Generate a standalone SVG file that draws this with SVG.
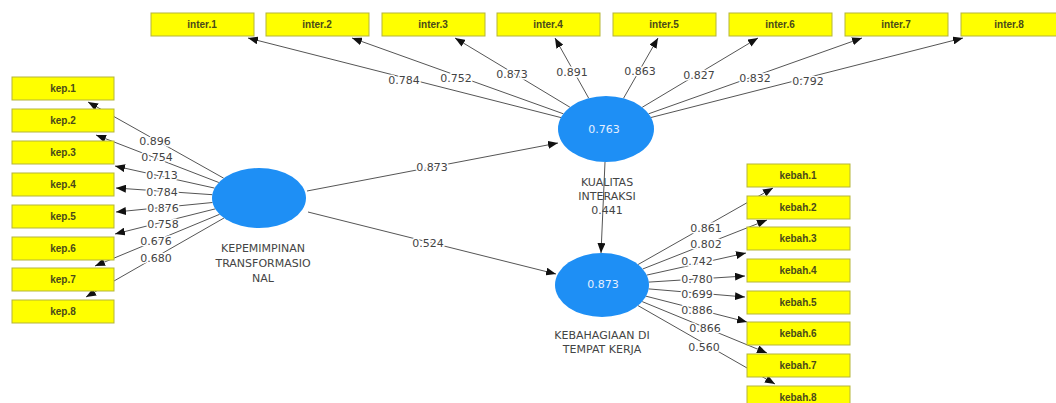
<svg xmlns="http://www.w3.org/2000/svg" width="1056" height="403" viewBox="0 0 1056 403">
<defs>
<marker id="ah" markerUnits="userSpaceOnUse" markerWidth="10" markerHeight="8" refX="10" refY="4" orient="auto">
<path d="M0,0 L10,4 L0,8 z" fill="#111"/>
</marker>
<style>
.bx{fill:#ffff00;stroke:#b5b53a;stroke-width:1}
.bt{font-family:"Liberation Sans",Arial,sans-serif;font-size:10px;font-weight:bold;fill:#4a4a1a;text-anchor:middle}
.ln{stroke:#555;stroke-width:1;fill:none;marker-end:url(#ah)}
.lb{font-family:"DejaVu Sans","Liberation Sans",sans-serif;font-size:11px;fill:#444;text-anchor:middle;paint-order:stroke;stroke:#fff;stroke-width:3px}
.el{fill:#1e8ff5}
.et{font-family:"DejaVu Sans","Liberation Sans",sans-serif;font-size:11px;fill:#e6f0ff;text-anchor:middle}
.nt{font-family:"DejaVu Sans","Liberation Sans",sans-serif;font-size:11px;fill:#444;text-anchor:middle}
</style>
</defs>
<rect width="1056" height="403" fill="#fff"/>
<g id="connectors">
<!-- inter -->
<line class="ln" x1="561" y1="117.6" x2="248" y2="38"/>
<line class="ln" x1="563.4" y1="113.8" x2="352" y2="38"/>
<line class="ln" x1="569.9" y1="107.2" x2="455" y2="38"/>
<line class="ln" x1="588.7" y1="98.2" x2="555" y2="38"/>
<line class="ln" x1="623.5" y1="98.3" x2="658" y2="38"/>
<line class="ln" x1="642.2" y1="107.3" x2="758" y2="38"/>
<line class="ln" x1="648.6" y1="113.8" x2="862" y2="38"/>
<line class="ln" x1="651" y1="117.5" x2="963" y2="38"/>
<!-- kep -->
<line class="ln" x1="223.7" y1="178.2" x2="88" y2="102"/>
<line class="ln" x1="218.8" y1="182.5" x2="96" y2="135"/>
<line class="ln" x1="214.6" y1="188.1" x2="115" y2="166"/>
<line class="ln" x1="212.3" y1="194.7" x2="116" y2="188"/>
<line class="ln" x1="212.5" y1="202.5" x2="116" y2="212"/>
<line class="ln" x1="215.2" y1="208.9" x2="115" y2="234"/>
<line class="ln" x1="219.6" y1="214.3" x2="95" y2="266"/>
<line class="ln" x1="224" y1="218" x2="86" y2="297"/>
<!-- kebah -->
<line class="ln" x1="638.1" y1="264.5" x2="773" y2="188"/>
<line class="ln" x1="642.7" y1="269" x2="767" y2="220"/>
<line class="ln" x1="646.7" y1="275.1" x2="746" y2="253"/>
<line class="ln" x1="648.8" y1="282.1" x2="745" y2="276"/>
<line class="ln" x1="648.6" y1="288.9" x2="745" y2="297"/>
<line class="ln" x1="646" y1="296.2" x2="747" y2="322"/>
<line class="ln" x1="642.2" y1="301.6" x2="767" y2="353"/>
<line class="ln" x1="638" y1="305.6" x2="775" y2="384"/>
<!-- structural -->
<line class="ln" x1="307" y1="191" x2="558" y2="143"/>
<line class="ln" x1="308" y1="212" x2="556" y2="274"/>
<line class="ln" x1="605" y1="162" x2="601" y2="253"/>
<!-- labels -->
<text class="lb" x="404" y="84">0.784</text>
<text class="lb" x="456" y="82">0.752</text>
<text class="lb" x="512" y="78">0.873</text>
<text class="lb" x="572" y="76">0.891</text>
<text class="lb" x="640" y="75">0.863</text>
<text class="lb" x="699" y="79">0.827</text>
<text class="lb" x="755" y="82">0.832</text>
<text class="lb" x="808" y="85">0.792</text>
<text class="lb" x="155" y="145">0.896</text>
<text class="lb" x="157" y="161">0.754</text>
<text class="lb" x="162" y="179">0.713</text>
<text class="lb" x="162" y="196">0.784</text>
<text class="lb" x="163" y="212">0.876</text>
<text class="lb" x="163" y="228">0.758</text>
<text class="lb" x="156" y="245">0.676</text>
<text class="lb" x="156" y="262">0.680</text>
<text class="lb" x="706" y="232">0.861</text>
<text class="lb" x="706" y="248">0.802</text>
<text class="lb" x="697" y="265">0.742</text>
<text class="lb" x="697" y="283">0.780</text>
<text class="lb" x="697" y="298">0.699</text>
<text class="lb" x="697" y="314">0.886</text>
<text class="lb" x="705" y="332">0.866</text>
<text class="lb" x="704" y="351">0.560</text>
<text class="lb" x="432" y="171">0.873</text>
<text class="lb" x="428" y="247">0.524</text>
</g>
<g id="kep">
<ellipse class="el" cx="259" cy="198" rx="47" ry="30"/>
<text class="nt" x="263" y="252">KEPEMIMPINAN</text>
<text class="nt" x="263" y="267">TRANSFORMASIO</text>
<text class="nt" x="263" y="282">NAL</text>
</g>
<g id="kualitas">
<ellipse class="el" cx="606" cy="129" rx="48" ry="33"/>
<text class="et" x="604" y="133">0.763</text>
<text class="nt" x="607" y="186">KUALITAS</text>
<text class="nt" x="607" y="200">INTERAKSI</text>
<text class="nt" x="607" y="214">0.441</text>
</g>
<g id="kebah">
<ellipse class="el" cx="602" cy="285" rx="47" ry="32"/>
<text class="et" x="603" y="288">0.873</text>
<text class="nt" x="602" y="339">KEBAHAGIAAN DI</text>
<text class="nt" x="602" y="353">TEMPAT KERJA</text>
</g>
<g id="inter-items">
<g id="inter1"><rect class="bx" x="151" y="13" width="103" height="23"/><text class="bt" x="202" y="28">inter.1</text></g>
<g id="inter2"><rect class="bx" x="266" y="13" width="103" height="23"/><text class="bt" x="317" y="28">inter.2</text></g>
<g id="inter3"><rect class="bx" x="382" y="13" width="103" height="23"/><text class="bt" x="433" y="28">inter.3</text></g>
<g id="inter4"><rect class="bx" x="497" y="13" width="103" height="23"/><text class="bt" x="548" y="28">inter.4</text></g>
<g id="inter5"><rect class="bx" x="613" y="13" width="103" height="23"/><text class="bt" x="664" y="28">inter.5</text></g>
<g id="inter6"><rect class="bx" x="729" y="13" width="103" height="23"/><text class="bt" x="780" y="28">inter.6</text></g>
<g id="inter7"><rect class="bx" x="845" y="13" width="103" height="23"/><text class="bt" x="896" y="28">inter.7</text></g>
<g id="inter8"><rect class="bx" x="961" y="13" width="103" height="23"/><text class="bt" x="1009" y="28">inter.8</text></g>
</g>
<g id="kep-items">
<g id="kep1"><rect class="bx" x="12" y="77" width="102" height="23"/><text class="bt" x="63" y="92">kep.1</text></g>
<g id="kep2"><rect class="bx" x="12" y="109" width="102" height="23"/><text class="bt" x="63" y="124">kep.2</text></g>
<g id="kep3"><rect class="bx" x="12" y="141" width="102" height="23"/><text class="bt" x="63" y="156">kep.3</text></g>
<g id="kep4"><rect class="bx" x="12" y="173" width="102" height="23"/><text class="bt" x="63" y="188">kep.4</text></g>
<g id="kep5"><rect class="bx" x="12" y="205" width="102" height="23"/><text class="bt" x="63" y="220">kep.5</text></g>
<g id="kep6"><rect class="bx" x="12" y="237" width="102" height="23"/><text class="bt" x="63" y="252">kep.6</text></g>
<g id="kep7"><rect class="bx" x="12" y="268" width="102" height="23"/><text class="bt" x="63" y="283">kep.7</text></g>
<g id="kep8"><rect class="bx" x="12" y="300" width="102" height="23"/><text class="bt" x="63" y="315">kep.8</text></g>
</g>
<g id="kebah-items">
<g id="kebah1"><rect class="bx" x="747" y="164" width="103" height="23"/><text class="bt" x="798" y="179">kebah.1</text></g>
<g id="kebah2"><rect class="bx" x="747" y="196" width="103" height="23"/><text class="bt" x="798" y="211">kebah.2</text></g>
<g id="kebah3"><rect class="bx" x="747" y="227" width="103" height="23"/><text class="bt" x="798" y="242">kebah.3</text></g>
<g id="kebah4"><rect class="bx" x="747" y="259" width="103" height="23"/><text class="bt" x="798" y="274">kebah.4</text></g>
<g id="kebah5"><rect class="bx" x="747" y="291" width="103" height="23"/><text class="bt" x="798" y="306">kebah.5</text></g>
<g id="kebah6"><rect class="bx" x="747" y="322" width="103" height="23"/><text class="bt" x="798" y="337">kebah.6</text></g>
<g id="kebah7"><rect class="bx" x="747" y="354" width="103" height="23"/><text class="bt" x="798" y="369">kebah.7</text></g>
<g id="kebah8"><rect class="bx" x="747" y="386" width="103" height="23"/><text class="bt" x="798" y="401">kebah.8</text></g>
</g>
</svg>
